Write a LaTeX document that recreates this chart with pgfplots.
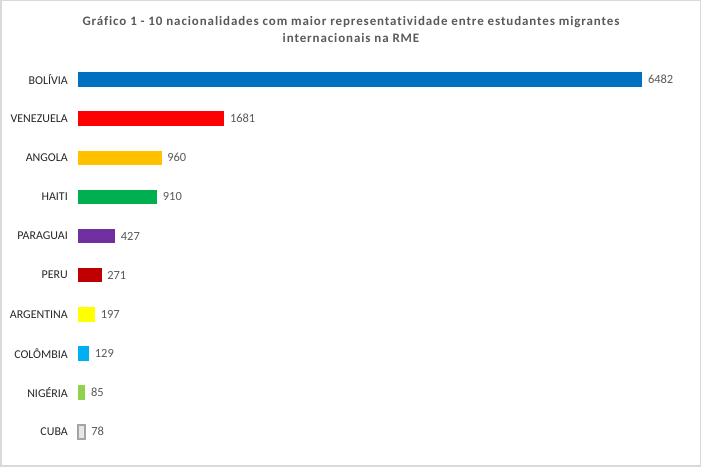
\documentclass[border=0pt]{standalone}
\usepackage{pgfplots}
\pgfplotsset{compat=1.18}
\usepackage{fontspec}
\setmainfont{Carlito}

\definecolor{cBol}{HTML}{0070C0}
\definecolor{cVen}{HTML}{FF0000}
\definecolor{cAng}{HTML}{FFC000}
\definecolor{cHai}{HTML}{00B050}
\definecolor{cPar}{HTML}{7030A0}
\definecolor{cPer}{HTML}{C00000}
\definecolor{cArg}{HTML}{FFFF00}
\definecolor{cCol}{HTML}{00B0F0}
\definecolor{cNig}{HTML}{92D050}
\definecolor{cCubFill}{HTML}{E7E6E6}
\definecolor{cCubLine}{HTML}{A5A5A5}
\definecolor{txtgray}{HTML}{595959}
\definecolor{labgray}{HTML}{262626}
\definecolor{framegray}{HTML}{D9D9D9}

\begin{document}
\begin{tikzpicture}[x=1bp,y=1bp]
% chart area frame
\draw[framegray, line width=1.5bp] (0.75,0.75) rectangle (700.25,466.25);

\node[font=\fontsize{13}{16.5}\selectfont\bfseries\addfontfeature{LetterSpace=7,Ligatures=NoCommon}, text=txtgray, align=center,
      anchor=north] at (351,467-13) {Gráfico 1 - 10 nacionalidades com maior representatividade entre estudantes migrantes\\internacionais na RME};

\begin{axis}[
  at={(78bp,15.7bp)}, anchor=south west,
  scale only axis,
  width=564.3bp, height=391.4bp,
  xbar, bar width=14.4bp, bar shift=0pt,
  xmin=0, xmax=6482,
  ymin=-0.5, ymax=9.5,
  y dir=reverse,
  clip=false,
  axis line style={draw=none},
  major tick length=0pt,
  xtick=\empty,
  ytick={0,...,9},
  yticklabels={BOLÍVIA, VENEZUELA, ANGOLA, HAITI, PARAGUAI, PERU, ARGENTINA, COLÔMBIA, NIGÉRIA, CUBA},
  yticklabel style={font=\fontsize{12}{14}\selectfont, text=labgray, inner sep=0pt, anchor=east, xshift=-10bp},
  /pgf/number format/assume math mode=true,
  /pgf/number format/1000 sep={},
  nodes near coords,
  every node near coord/.append style={font=\fontsize{12.5}{14}\selectfont, text=txtgray, inner sep=0pt, anchor=west, xshift=5.5bp},
]
\addplot[fill=cBol, draw=none] coordinates {(6482,0)};
\addplot[fill=cVen, draw=none] coordinates {(1681,1)};
\addplot[fill=cAng, draw=none] coordinates {(960,2)};
\addplot[fill=cHai, draw=none] coordinates {(910,3)};
\addplot[fill=cPar, draw=none] coordinates {(427,4)};
\addplot[fill=cPer, draw=none] coordinates {(271,5)};
\addplot[fill=cArg, draw=none] coordinates {(197,6)};
\addplot[fill=cCol, draw=none] coordinates {(129,7)};
\addplot[fill=cNig, draw=none] coordinates {(85,8)};
\addplot[fill=cCubFill, draw=cCubLine, line width=2bp] coordinates {(78,9)};
\end{axis}
\end{tikzpicture}
\end{document}
